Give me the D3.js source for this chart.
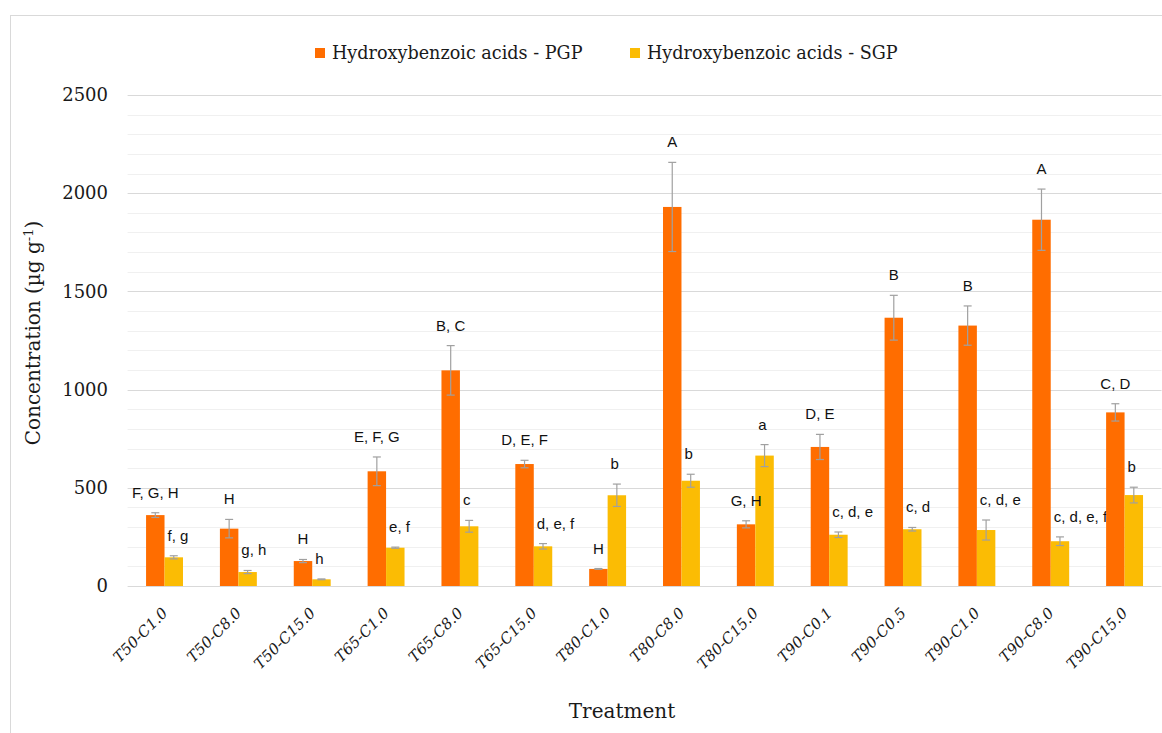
<!DOCTYPE html>
<html>
<head>
<meta charset="utf-8">
<script src="https://cdn.jsdelivr.net/npm/d3@7"></script>
<style>
  html, body { margin: 0; padding: 0; background: #fff; }
  svg { display: block; }
</style>
</head>
<body>
<svg id="chart" width="1162" height="733"></svg>
<script>
// Treatments (temperature - concentration)
const categories = ["T50-C1.0", "T50-C8.0", "T50-C15.0", "T65-C1.0", "T65-C8.0", "T65-C15.0",
  "T80-C1.0", "T80-C8.0", "T80-C15.0", "T90-C0.1", "T90-C0.5", "T90-C1.0", "T90-C8.0", "T90-C15.0"];
const seriesNames = ["Hydroxybenzoic acids - PGP", "Hydroxybenzoic acids - SGP"];

// Mean concentrations (µg g-1) and their error bars
const pgpValues = [361, 292, 127, 584, 1098, 621, 87, 1930, 314, 708, 1366, 1326, 1865, 884];
const pgpErrors = [12, 47, 8, 73, 126, 19, 2, 227, 18, 64, 114, 100, 156, 44];
const sgpValues = [146, 71, 34, 195, 304, 202, 462, 536, 664, 261, 289, 285, 228, 463];
const sgpErrors = [8, 8, 2, 3, 30, 14, 57, 33, 56, 14, 9, 51, 22, 40];

// Significance letters
const pgpLetters = ["F, G, H", "H", "H", "E, F, G", "B, C", "D, E, F", "H", "A", "G, H", "D, E", "B", "B", "A", "C, D"];
const sgpLetters = ["f, g", "g, h", "h", "e, f", "c", "d, e, f", "b", "b", "a", "c, d, e", "c, d", "c, d, e", "c, d, e, f", "b"];

const yTicks = [0, 500, 1000, 1500, 2000, 2500];

const colors = ["#FF6D00", "#FBBC04"];

const svg = d3.select("#chart");

// Outer chart border
svg.append("rect")
  .attr("x", 10.5).attr("y", 15.5)
  .attr("width", 1200).attr("height", 760)
  .attr("fill", "none").attr("stroke", "#d9d9d9").attr("stroke-width", 1);

const plotLeft = 127.6, plotRight = 1161.5;
const y = d3.scaleLinear().domain([0, 2500]).range([586, 95]);
const x = d3.scaleBand().domain(categories).range([plotLeft, plotRight])
  .paddingInner(0.5).paddingOuter(0.25);
const xs = d3.scaleBand().domain(["PGP", "SGP"]).range([0, x.bandwidth()]);

// Gridlines: minor every 100, major every 500
const minor = d3.range(100, 2501, 100).filter(v => v % 500 !== 0);
svg.append("g").selectAll("line").data(minor).join("line")
  .attr("x1", plotLeft).attr("x2", plotRight)
  .attr("y1", d => Math.round(y(d)) + 0.5).attr("y2", d => Math.round(y(d)) + 0.5)
  .attr("stroke", "#f0f0f0").attr("stroke-width", 1);
svg.append("g").selectAll("line").data(yTicks).join("line")
  .attr("x1", plotLeft).attr("x2", plotRight)
  .attr("y1", d => Math.round(y(d)) + 0.5).attr("y2", d => Math.round(y(d)) + 0.5)
  .attr("stroke", "#d9d9d9").attr("stroke-width", 1);

// Y axis tick labels
const yAxis = d3.axisLeft(y).tickValues(yTicks).tickSize(0).tickPadding(0).tickFormat(d3.format("d"));
const gy = svg.append("g").attr("transform", "translate(108,0)").call(yAxis);
gy.select(".domain").remove();
gy.selectAll("text")
  .attr("font-family", "'DejaVu Serif', serif").attr("font-size", 18).attr("fill", "#1a1a1a");

// X axis tick labels (rotated)
const xAxis = d3.axisBottom(x).tickSize(0).tickPadding(0);
const gx = svg.append("g").attr("transform", "translate(0,586)").call(xAxis);
gx.select(".domain").remove();
gx.selectAll(".tick text")
  .attr("font-family", "'DejaVu Serif', serif").attr("font-style", "italic")
  .attr("font-size", 15).attr("fill", "#1a1a1a")
  .attr("text-anchor", "end")
  .attr("dy", 0).attr("y", 0)
  .attr("transform", "translate(4,28) rotate(-45)");

// Bars
const rows = categories.map((c, i) => ({
  cat: c,
  items: [
    { key: "PGP", v: pgpValues[i], e: pgpErrors[i], label: pgpLetters[i] },
    { key: "SGP", v: sgpValues[i], e: sgpErrors[i], label: sgpLetters[i] }
  ]
}));

const groups = svg.append("g").selectAll("g").data(rows).join("g")
  .attr("transform", d => `translate(${x(d.cat)},0)`);

groups.selectAll("rect").data(d => d.items).join("rect")
  .attr("x", d => xs(d.key))
  .attr("width", xs.bandwidth())
  .attr("y", d => y(d.v))
  .attr("height", d => y(0) - y(d.v))
  .attr("fill", (d, i) => colors[i]);

// Error bars
const capHalf = 4;
const eb = groups.selectAll("g.err").data(d => d.items).join("g").attr("class", "err")
  .attr("stroke", "#a0a0a0").attr("stroke-width", 1.2);
eb.append("line")
  .attr("x1", d => xs(d.key) + xs.bandwidth() / 2).attr("x2", d => xs(d.key) + xs.bandwidth() / 2)
  .attr("y1", d => y(d.v + d.e)).attr("y2", d => y(d.v - d.e));
eb.append("line")
  .attr("x1", d => xs(d.key) + xs.bandwidth() / 2 - capHalf).attr("x2", d => xs(d.key) + xs.bandwidth() / 2 + capHalf)
  .attr("y1", d => y(d.v + d.e)).attr("y2", d => y(d.v + d.e));
eb.append("line")
  .attr("x1", d => xs(d.key) + xs.bandwidth() / 2 - capHalf).attr("x2", d => xs(d.key) + xs.bandwidth() / 2 + capHalf)
  .attr("y1", d => y(d.v - d.e)).attr("y2", d => y(d.v - d.e));

// Significance letters above the error bars
groups.selectAll("text.lbl").data(d => d.items).join("text").attr("class", "lbl")
  .attr("x", d => d.key === "PGP" ? xs(d.key) + xs.bandwidth() / 2 : xs(d.key) + 3)
  .attr("y", d => y(d.v + d.e) - 15)
  .attr("text-anchor", d => d.key === "PGP" ? "middle" : "start")
  .attr("font-family", "'Liberation Sans', Arial, sans-serif")
  .attr("font-size", 15).attr("fill", "#111")
  .text(d => d.label);

// Axis titles
svg.append("text")
  .attr("x", 622).attr("y", 718)
  .attr("text-anchor", "middle")
  .attr("font-family", "'DejaVu Serif', serif").attr("font-size", 20).attr("fill", "#1a1a1a")
  .text("Treatment");

const yt = svg.append("text")
  .attr("transform", "translate(40,333) rotate(-90)")
  .attr("text-anchor", "middle")
  .attr("font-family", "'DejaVu Serif', serif").attr("font-size", 20).attr("fill", "#1a1a1a");
yt.append("tspan").text("Concentration (µg g");
yt.append("tspan").attr("dy", -7).attr("font-size", 13).text("-1");
yt.append("tspan").attr("dy", 7).text(")");

// Legend
const legendX = [315, 630];
const lg = svg.append("g").selectAll("g").data(seriesNames).join("g")
  .attr("transform", (d, i) => `translate(${legendX[i]},48)`);
lg.append("rect").attr("width", 10).attr("height", 10).attr("fill", (d, i) => colors[i]);
lg.append("text")
  .attr("x", 17).attr("y", 11)
  .attr("font-family", "'DejaVu Serif', serif").attr("font-size", 17.6).attr("fill", "#1a1a1a")
  .text(d => d);
</script>
</body>
</html>
